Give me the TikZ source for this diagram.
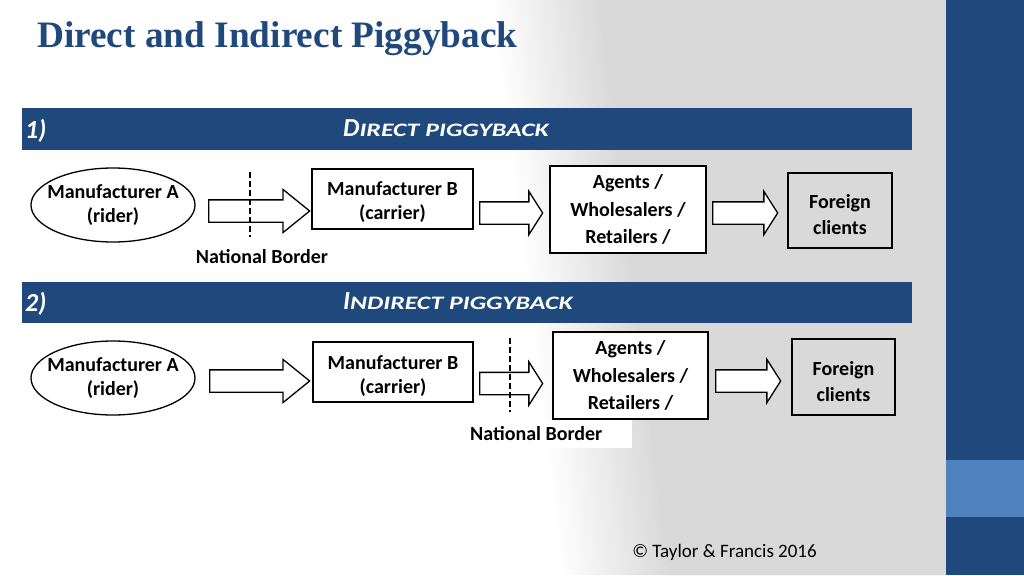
\documentclass[tikz,border=0pt]{standalone}
\usepackage{fontspec}
\setmainfont{Carlito}
\newfontfamily\titlefont{Liberation Serif}
\usepackage{graphicx}
\usepackage{tikz}
\usetikzlibrary{shapes.arrows}
\definecolor{slideblue}{HTML}{1F497D}
\definecolor{paleblue}{HTML}{4F81BD}
\definecolor{slidegrey}{HTML}{D9D9D9}
\newcommand{\fakesc}[2]{{\fontsize{26}{26}\selectfont #1}{\fontsize{19}{19}\selectfont\scalebox{1.36}[1]{#2}}}

\begin{document}
\begin{tikzpicture}[x=1pt,y=-1pt,
    txt/.style={font=\fontsize{20}{24}\selectfont\bfseries,inner sep=0pt,align=center},
    box/.style={draw,line width=1.3pt,fill=white},
    oval/.style={draw,line width=1.3pt,fill=white,x radius=82,y radius=37},
    barrow/.style={single arrow,draw,fill=white,line width=1.3pt,anchor=tail,
        inner xsep=0pt,inner ysep=10.5pt,single arrow head extend=10.5pt,
        single arrow head indent=0pt,single arrow tip angle=115},
    border/.style={line width=1.5pt,dash pattern=on 5.5pt off 3.5pt},
    band/.style={fill=slideblue},
    bandtxt/.style={text=white,font=\bfseries\itshape,inner sep=0pt,anchor=base west}]

    % background
    \useasboundingbox (0,0) rectangle (1024,575);
    \fill[white] (0,0) -- (491,0) -- (561,575) -- (0,575) -- cycle;
    \begin{scope}[transform canvas={xslant=-0.122}]
        \shade[left color=white,right color=slidegrey] (490,0) rectangle (600,575);
    \end{scope}
    \fill[slidegrey] (599,0) -- (946,0) -- (946,575) -- (669,575) -- cycle;
    \fill[slideblue] (946,0) rectangle (1024,575);
    \fill[paleblue] (946,460) rectangle (1024,517);

    \node[anchor=base west,inner sep=0pt,text=slideblue,font=\titlefont\fontsize{37.3}{37.3}\selectfont\bfseries] (title) at (37,48) {Direct and Indirect Piggyback};

    % 1) direct
    \fill[band] (22,108) rectangle (912,150);
    \node[bandtxt,font=\fontsize{26}{26}\selectfont\bfseries\itshape] (n1) at (25,138) {1)};
    \node[bandtxt] (h1) at (343,136) {\fakesc{D}{IRECT PIGGYBACK}};

    \draw[oval] (113,205) coordinate (c1) ellipse [];
    \node[txt] (ra1) at (c1) {Manufacturer A\\(rider)};
    \node[box,minimum width=161,minimum height=60] (cb1) at (392.5,199) {};
    \node[txt] (cb1t) at ([yshift=-3pt]cb1.center) {Manufacturer B\\(carrier)};
    \node[box,minimum width=156,minimum height=87] (ag1) at (628,209.5) {};
    \node[txt,font=\fontsize{20}{27.5}\selectfont\bfseries] (ag1t) at (ag1.center) {Agents /\\Wholesalers /\\Retailers /};
    \node[box,fill=none,minimum width=104,minimum height=75] (fc1) at (840,210.5) {};
    \node[txt,font=\fontsize{20}{26}\selectfont\bfseries] (fc1t) at ([yshift=-4.5pt]fc1.center) {Foreign\\clients};

    \node[barrow,single arrow tip angle=78,minimum height=101] (p11) at (208,211) {};
    \node[barrow,minimum height=63] (p12) at (479,213) {};
    \node[barrow,minimum height=65] (p13) at (712,213) {};

    \draw[border] (250,172) coordinate (b1t) -- (250,237) coordinate (b1b);
    \node[txt] (nb1) at (262,257) {National Border};

    % 2) indirect
    \fill[band] (22,282) rectangle (912,323);
    \node[bandtxt,font=\fontsize{26}{26}\selectfont\bfseries\itshape] (n2) at (25,311) {2)};
    \node[bandtxt] (h2) at (343,309) {\fakesc{I}{NDIRECT PIGGYBACK}};

    \draw[oval] (113,378) coordinate (c2) ellipse [];
    \node[txt] (ra2) at (c2) {Manufacturer A\\(rider)};
    \node[box,minimum width=160,minimum height=60] (cb2) at (393,372) {};
    \node[txt] (cb2t) at ([yshift=-4.5pt]cb2.center) {Manufacturer B\\(carrier)};
    \node[box,minimum width=155,minimum height=87] (ag2) at (630.5,375.5) {};
    \node[txt,font=\fontsize{20}{27.5}\selectfont\bfseries] (ag2t) at (ag2.center) {Agents /\\Wholesalers /\\Retailers /};
    \node[box,fill=none,minimum width=103,minimum height=76] (fc2) at (843.5,377) {};
    \node[txt,font=\fontsize{20}{26}\selectfont\bfseries] (fc2t) at ([yshift=-4.5pt]fc2.center) {Foreign\\clients};

    \node[barrow,single arrow tip angle=78,minimum height=100] (p21) at (209,381) {};
    \node[barrow,minimum height=63] (p22) at (479,383.5) {};
    \node[barrow,minimum height=65] (p23) at (715,381) {};

    \draw[border] (510,338) coordinate (b2t) -- (510,412) coordinate (b2b);
    \fill[white] (466,420) rectangle (632,448);
    \node[txt,anchor=west] (nb2) at (470,434) {National Border};

    \node[font=\fontsize{19}{19}\selectfont,inner sep=0pt] (copy) at (724.5,552) {\textcopyright{} Taylor \& Francis 2016};
\end{tikzpicture}
\end{document}
